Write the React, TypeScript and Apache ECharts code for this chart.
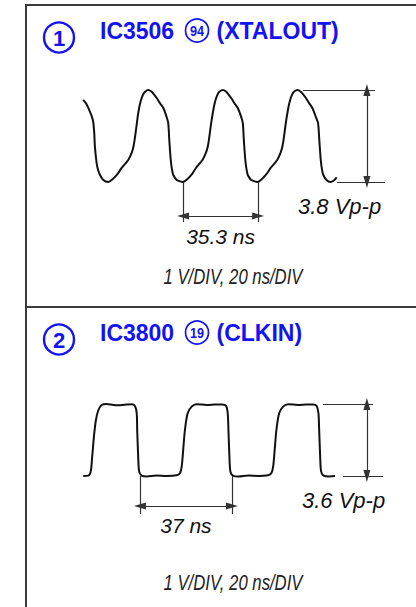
import React, { useEffect, useRef } from "react";
import * as echarts from "echarts";

// ---------- data ----------
// Panel 1: IC3506 pin 94 (XTALOUT) — time in ns, level in V
const wave1: [number, number][] = [
  [0.1, 3.39], [1.6, 3.22], [3.3, 2.9], [4.2, 2.69], [4.8, 2.49], [5.3, 2.02], [5.6, 1.46],
  [6.4, 0.79], [7.1, 0.5], [8.0, 0.29], [9.6, 0.08], [11.9, 0.0], [13.5, 0.08], [15.9, 0.29],
  [18.2, 0.58], [21.3, 0.91], [22.9, 1.2], [23.8, 1.49], [24.5, 1.87], [25.3, 2.4], [26.0, 2.85],
  [26.8, 3.22], [27.6, 3.47], [28.4, 3.64], [29.2, 3.73], [30.7, 3.8], [32.3, 3.73], [33.4, 3.62],
  [34.7, 3.47], [36.2, 3.26], [37.8, 3.06], [39.3, 2.7], [40.1, 2.44], [40.6, 1.74], [41.3, 0.91],
  [41.9, 0.5], [42.5, 0.29], [44.1, 0.08], [46.4, 0.01],
  [47.0, 0.0], [48.6, 0.08], [51.0, 0.29], [53.3, 0.6], [56.3, 0.92], [57.9, 1.22], [58.8, 1.5],
  [59.5, 1.9], [60.3, 2.42], [61.1, 2.86], [61.9, 3.23], [62.7, 3.48], [63.5, 3.65], [64.3, 3.74],
  [65.8, 3.8], [67.4, 3.73], [68.5, 3.61], [69.8, 3.46], [71.3, 3.25], [72.9, 3.05], [74.4, 2.7],
  [75.2, 2.43], [75.7, 1.72], [76.4, 0.9], [77.0, 0.5], [77.6, 0.28], [79.2, 0.08], [81.5, 0.01],
  [82.1, 0.0], [83.7, 0.08], [86.1, 0.3], [88.4, 0.59], [91.4, 0.91], [93.0, 1.21], [93.9, 1.5],
  [94.6, 1.88], [95.4, 2.41], [96.2, 2.86], [97.0, 3.22], [97.8, 3.48], [98.6, 3.65], [99.4, 3.74],
  [100.9, 3.8], [102.5, 3.73], [103.6, 3.62], [104.9, 3.47], [106.4, 3.26], [108.0, 3.05],
  [109.5, 2.7], [110.6, 2.44], [111.2, 1.73], [111.9, 0.9], [112.5, 0.5], [113.1, 0.29],
  [114.6, 0.08], [116.4, 0.0], [117.9, 0.05], [119.4, 0.19],
];

// Panel 2: IC3800 pin 19 (CLKIN)
const wave2: [number, number][] = [
  [0.1, 0.0], [2.1, 0.02], [3.1, 0.22], [3.7, 0.97], [4.4, 1.97], [5.2, 2.8], [6.2, 3.3],
  [7.5, 3.55], [9.5, 3.6], [12.2, 3.55], [14.9, 3.54], [17.6, 3.57], [19.6, 3.59], [20.9, 3.5],
  [21.6, 3.15], [21.8, 2.3], [22.2, 0.97], [22.6, 0.22], [23.6, 0.02], [25.6, -0.02], [29.6, 0.02],
  [33.7, 0.0], [37.7, 0.04], [39.0, 0.14], [39.7, 0.47], [40.3, 1.3], [41.0, 2.3], [42.1, 3.14],
  [43.7, 3.47], [45.7, 3.59], [49.8, 3.55], [53.0, 3.57], [56.0, 3.58], [57.5, 3.52], [58.2, 3.15],
  [58.5, 2.3], [58.9, 0.97], [59.3, 0.22], [60.3, 0.02], [62.5, -0.03], [66.5, 0.02], [70.5, 0.0],
  [74.5, 0.04], [75.8, 0.15], [76.5, 0.48], [77.1, 1.3], [77.8, 2.3], [78.9, 3.14], [80.5, 3.47],
  [82.5, 3.59], [86.5, 3.55], [89.5, 3.57], [92.6, 3.58], [94.0, 3.5], [94.7, 3.15], [95.0, 2.3],
  [95.4, 0.97], [95.8, 0.22], [96.8, 0.02], [99.0, -0.02], [101.4, 0.0],
];

const icNames = ["IC3506", "IC3800"];
const pinNumbers = ["94", "19"];
const signalNames = ["(XTALOUT)", "(CLKIN)"];
const panelNumbers = ["1", "2"];
const vppValues = [3.8, 3.6];
const periodValues = [35.3, 37];
const periodStarts = [47.1, 22.9];
const scaleLabel = "1 V/DIV, 20 ns/DIV";

// ---------- layout (pixels / ns positions of annotations) ----------
const PANELS = [
  {
    x0: 83, y0: 182, pxNs: 2.125, pxV: 24.2, tMax: 150, vMin: -3, vMax: 4.4,
    topRef: [103.5, 137.4], botRef: [119.5, 142.1], vArrowT: 133.6,
    extBottom: -1.65, hArrowV: -1.4, titleY: 30.5, vppLabel: [298, 206], perLabelY: 236, scaleY: 276,
  },
  {
    x0: 83, y0: 476, pxNs: 2.486, pxV: 20, tMax: 130, vMin: -3, vMax: 4.4,
    topRef: [96.5, 116.7], botRef: [104.6, 120.7], vArrowT: 114.2,
    extBottom: -1.9, hArrowV: -1.5, titleY: 332.5, vppLabel: [302, 500], perLabelY: 525, scaleY: 582,
  },
];

const BLUE = "#1212f5";
const INK = "#111111";
const SANS = "'Liberation Sans', Arial, Helvetica, sans-serif";

function txt(text: string, x: number, y: number, o: any = {}) {
  const align = o.align || "left";
  return {
    type: "text",
    silent: true,
    x, y,
    scaleX: o.scaleX || 1,
    style: {
      text, x: 0, y: 0,
      fill: o.fill || INK,
      fontSize: o.size || 18,
      fontFamily: o.family || SANS,
      fontWeight: o.weight || "normal",
      fontStyle: o.style || "normal",
      align, textAlign: align,
      verticalAlign: "middle", textVerticalAlign: "middle",
    },
  };
}

export default function App() {
  const ref = useRef<HTMLDivElement>(null);
  useEffect(() => {
    document.body.style.margin = "0";
    const chart = echarts.init(ref.current!, undefined, { renderer: "svg" });

    const waves = [wave1, wave2];
    const grids: any[] = [];
    const xAxes: any[] = [];
    const yAxes: any[] = [];
    const series: any[] = [];
    const graphics: any[] = [];

    const plain = { color: "#333", width: 1.2, type: "solid" };
    const arrowEnd = (c: number[]) => ({ coord: c, symbol: "triangle", symbolSize: [7, 12] });
    const noEnd = (c: number[]) => ({ coord: c, symbol: "none" });

    PANELS.forEach((p, i) => {
      grids.push({
        left: p.x0,
        width: p.tMax * p.pxNs,
        top: p.y0 - p.vMax * p.pxV,
        height: (p.vMax - p.vMin) * p.pxV,
        containLabel: false,
      });
      xAxes.push({ type: "value", gridIndex: i, min: 0, max: p.tMax, show: false });
      yAxes.push({ type: "value", gridIndex: i, min: p.vMin, max: p.vMax, show: false });
      const vpp = vppValues[i];
      const t1 = periodStarts[i];
      const t2 = t1 + periodValues[i];
      series.push({
        type: "line",
        xAxisIndex: i,
        yAxisIndex: i,
        data: waves[i],
        showSymbol: false,
        symbol: "none",
        smooth: 0.3,
        clip: false,
        silent: true,
        lineStyle: { color: INK, width: 2 },
        markLine: {
          silent: true,
          symbol: ["none", "none"],
          label: { show: false },
          emphasis: { disabled: true },
          lineStyle: plain,
          data: [
            [noEnd([p.topRef[0], vpp]), noEnd([p.topRef[1], vpp])],
            [noEnd([p.botRef[0], 0]), noEnd([p.botRef[1], 0])],
            [arrowEnd([p.vArrowT, vpp]), arrowEnd([p.vArrowT, 0])],
            [noEnd([t1, 0]), noEnd([t1, p.extBottom])],
            [noEnd([t2, 0]), noEnd([t2, p.extBottom])],
            [arrowEnd([t1, p.hArrowV]), arrowEnd([t2, p.hArrowV])],
          ],
        },
      });

      // header: circled panel number, IC name, circled pin, signal
      const ty = p.titleY;
      graphics.push({
        type: "circle", silent: true,
        shape: { cx: 59, cy: ty + 7, r: 15 },
        style: { fill: "none", stroke: BLUE, lineWidth: 2.4 },
      });
      graphics.push(txt(panelNumbers[i], 59, ty + 7.5, { fill: BLUE, size: 22, weight: "bold", align: "center" }));
      graphics.push(txt(icNames[i], 100, ty, { fill: BLUE, size: 23, weight: "bold" }));
      graphics.push({
        type: "circle", silent: true,
        shape: { cx: 197, cy: ty, r: 11.5 },
        style: { fill: "none", stroke: BLUE, lineWidth: 1.7 },
      });
      graphics.push(txt(pinNumbers[i], 197, ty + 0.5, { fill: BLUE, size: 14, weight: "bold", align: "center", scaleX: 0.9 }));
      graphics.push(txt(signalNames[i], 216.5, ty, { fill: BLUE, size: 23, weight: "bold" }));

      // annotation labels
      graphics.push(txt(vpp.toFixed(1) + " Vp-p", p.vppLabel[0], p.vppLabel[1], { size: 22, style: "italic" }));
      const midX = p.x0 + ((t1 + t2) / 2) * p.pxNs;
      graphics.push(txt(periodValues[i] + " ns", midX, p.perLabelY, { size: 21, style: "italic", align: "center" }));
      graphics.push(txt(scaleLabel, 233, p.scaleY, { size: 22, style: "italic", fill: "#222", align: "center", scaleX: 0.76 }));
    });

    // frame
    const frame = { stroke: "#3c3c3c", lineWidth: 2 };
    graphics.push({ type: "line", silent: true, shape: { x1: 25, y1: 5, x2: 416, y2: 5 }, style: frame });
    graphics.push({ type: "line", silent: true, shape: { x1: 26, y1: 4, x2: 26, y2: 607 }, style: frame });
    graphics.push({ type: "line", silent: true, shape: { x1: 26, y1: 307, x2: 416, y2: 307 }, style: frame });

    chart.setOption({
      animation: false,
      backgroundColor: "#ffffff",
      grid: grids,
      xAxis: xAxes,
      yAxis: yAxes,
      series,
      graphic: graphics,
    });
    return () => chart.dispose();
  }, []);
  return <div ref={ref} style={{ width: 416, height: 607 }} />;
}
